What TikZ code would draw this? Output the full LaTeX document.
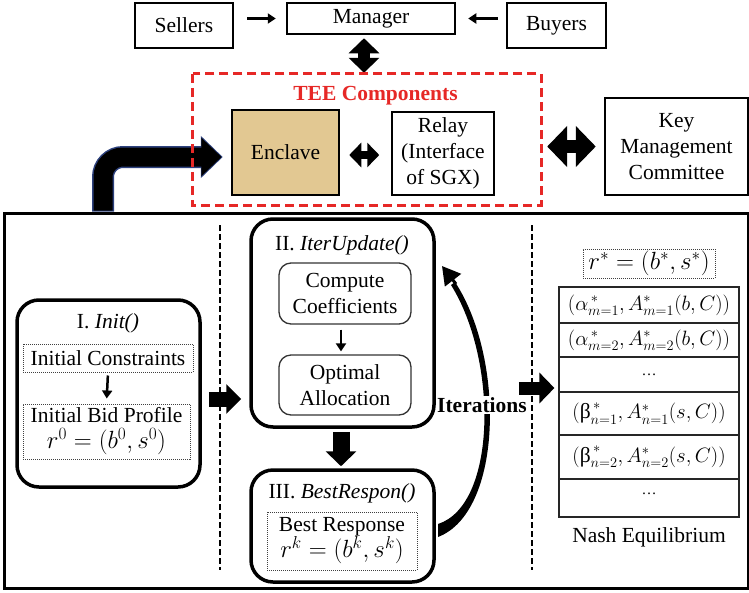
\documentclass[tikz,border=0pt]{standalone}
\usepackage{fontspec}
\setmainfont{Liberation Serif}
\usetikzlibrary{positioning}
\usetikzlibrary{arrows.meta}
\definecolor{teered}{RGB}{230,40,38}
\definecolor{papyrus}{RGB}{226,200,146}
\definecolor{edgeblue}{RGB}{45,65,125}
\newcommand{\bigmath}[1]{{\fontsize{24}{26}\selectfont$#1$}}
\newcommand{\celldots}{{\fontsize{15}{15}\selectfont\dots}}
\tikzset{
    box/.style = {rectangle, line width=2.5pt, draw=black, inner sep=0pt, align=center},
    rbox/.style = {rectangle, rounded corners=22pt, line width=3.5pt, draw=black, inner sep=0pt},
    sbox/.style = {rectangle, rounded corners=12pt, line width=1.3pt, draw=black!80, inner sep=0pt, align=center},
    dbox/.style = {rectangle, densely dotted, line width=1pt, draw=black!75, inner sep=0pt, align=center},
    cell/.style = {rectangle, line width=1.2pt, draw=black!85, minimum width=180pt, inner sep=0pt},
    sepline/.style = {line width=1.8pt, dash pattern=on 6pt off 3pt},
    edgethin/.style = {-{Triangle[length=8pt,width=10pt]}, line width=2.5pt},
    edgeblock/.style = {-{Triangle[length=15pt,width=29pt]}, line width=15pt},
    edgedbl/.style = {{Triangle[length=#1,width=2*#1]}-{Triangle[length=#1,width=2*#1]}},
    mainfont/.style = {font=\fontsize{21.5}{26}\selectfont}
}

\begin{document}
\begin{tikzpicture}[x=1pt,y=-1pt,every node/.style={mainfont}]
\useasboundingbox (0,0) rectangle (749,592);
%
% upper part
\node[box, minimum width=98pt, minimum height=45pt] at (184,25.5) (sellers) {Sellers};
\node[box, minimum width=168pt, minimum height=31pt] at (371,18.5) (manager) {Manager};
\node[box, minimum width=99pt, minimum height=45pt] at (556.5,25.5) (buyers) {Buyers};
\node[minimum width=348pt, minimum height=131pt, inner sep=0pt] at (367,139.5) (tee) {};
\node[text=teered, font=\fontsize{21.5}{26}\selectfont\bfseries] at (375.5,96) (teelabel) {TEE Components};
\node[box, fill=papyrus, minimum width=107pt, minimum height=85pt] at (285.5,152.5) (enclave) {Enclave};
\node[box, line width=1.5pt, minimum width=102pt, minimum height=83pt] at (443,153.5) (relay) {Relay\\(Interface\\of SGX)};
\node[box, minimum width=143pt, minimum height=97pt] at (676.5,146.5) (kmc) {Key\\Management\\Committee};
%
% lower part
\node[rectangle, draw=black, line width=3pt, minimum width=744pt, minimum height=375pt] at (376,400.5) (frame) {};
\draw[sepline] (220,225) -- (220,570);
\draw[sepline] (532,225) -- (532,570);
%
\node[rbox, minimum width=183pt, minimum height=187pt] at (108.5,393.5) (init) {};
\node at (108,323) (inittitle) {I. \textit{Init()}};
\node[dbox, minimum width=170pt, minimum height=28pt] at (108,358) (cons) {Initial Constraints};
\node[dbox, minimum width=167pt, minimum height=55pt] at (106.5,431.5) (bid) {Initial Bid Profile\\\bigmath{r^0=(b^0,s^0)}};
%
\node[rbox, minimum width=183pt, minimum height=208pt] at (342.5,323) (iter) {};
\node at (342,245) (itertitle) {II. \textit{IterUpdate()}};
\node[sbox, minimum width=132pt, minimum height=61pt] at (345,293.5) (coef) {Compute\\Coefficients};
\node[sbox, minimum width=132pt, minimum height=60pt] at (345,385) (alloc) {Optimal\\Allocation};
%
\node[rbox, minimum width=183pt, minimum height=112pt] at (342.5,526) (best) {};
\node at (342,493) (besttitle) {III. \textit{BestRespon()}};
\node[dbox, minimum width=150pt, minimum height=58pt] at (342,541) (resp) {Best Response\\\bigmath{r^k=\big(b^k,s^k\big)}};
%
\node[dbox, minimum width=132pt, minimum height=29pt] at (649,263.5) (rstar) {\bigmath{r^*=(b^*,s^*)}};
\node[cell, minimum height=36pt] at (649,305) (rowa) {$\big(\alpha^{\,*}_{m=1},A^*_{m=1}(b,C)\big)$};
\node[cell, minimum height=34pt] at (649,340) (rowb) {$\big(\alpha^{\,*}_{m=2},A^*_{m=2}(b,C)\big)$};
\node[cell, minimum height=35pt] at (649,374.5) (rowc) {\celldots};
\node[cell, minimum height=43pt] at (649,413.5) (rowd) {$\Big(\mbox{β}^{\,*}_{n=1},A^*_{n=1}(s,C)\Big)$};
\node[cell, minimum height=44pt] at (649,457) (rowe) {$\Big(\mbox{β}^{\,*}_{n=2},A^*_{n=2}(s,C)\Big)$};
\node[cell, minimum height=38pt] at (649,498) (rowf) {\raisebox{8pt}{\celldots}};
\node at (649,537) (nash) {Nash Equilibrium};
%
% connectors
\draw[edgethin, shorten <=13pt, shorten >=10pt] (sellers.east |- manager) -- (manager.west);
\draw[edgethin, shorten <=8pt, shorten >=12pt] (buyers.west |- manager) -- (manager.east);
\draw[edgedbl=15pt, line width=12pt, shorten <=3pt, shorten >=1pt] ([xshift=-7pt]manager.south) -- ([xshift=-7pt]manager.south |- tee.north);
\draw[edgedbl=12pt, line width=8pt, shorten <=9pt, shorten >=12pt] (enclave.east |- 0,155) -- (relay.west |- 0,155);
\draw[edgedbl=20pt, line width=13pt, shorten <=6pt, shorten >=8pt] (tee.east |- kmc.west) -- (kmc.west);
%
\draw[edgeblue, line width=22pt, rounded corners=20pt, -{Triangle[length=22pt,width=41pt]}, shorten >=8pt] (103,0 |- frame.north) |- ([yshift=-4.5pt]enclave.west);
\draw[black, line width=19pt, rounded corners=20pt, -{Triangle[length=20pt,width=37pt]}, shorten >=9.3pt] ([yshift=1pt]103,0 |- frame.north) |- ([yshift=-4.5pt]enclave.west);
\draw[teered, line width=3pt, dash pattern=on 9pt off 5pt] (tee.north west) rectangle (tee.south east);
%
\draw[edgethin, shorten <=3pt, shorten >=5pt] (cons.south) -- (bid.north);
\draw[edgethin, shorten <=5pt, shorten >=3pt] ([xshift=-4pt]coef.south) -- ([xshift=-4pt]alloc.north);
\draw[edgeblock, shorten <=7pt, shorten >=8pt] ([yshift=-5.5pt]init.east) -- ([yshift=-5.5pt]init.east -| iter.west);
\draw[edgeblock, line width=17pt, -{Triangle[length=15pt,width=30pt]}, shorten <=3pt, shorten >=2pt] ([xshift=-1.5pt]iter.south) -- ([xshift=-1.5pt]best.north);
\draw[edgeblock, line width=13pt, -{Triangle[length=15pt,width=30pt]}, shorten <=83pt, shorten >=4pt] ([yshift=-65pt]iter.east) -- ([yshift=-65pt]iter.east -| rowc.west);
%
% iterations loop
\fill (438,537) .. controls (503,512) and (505,358) .. (455,282) -- (451,285) .. controls (498,360) and (497,505) .. (438,524) -- cycle;
\draw[line width=3pt, -{Triangle[length=18pt,width=20pt]}] (456,284) -- (442,266);
\node[font=\fontsize{21.5}{26}\selectfont\bfseries, fill=white, inner sep=1pt] at (482,405) (iterlabel) {Iterations};
\end{tikzpicture}
\end{document}
